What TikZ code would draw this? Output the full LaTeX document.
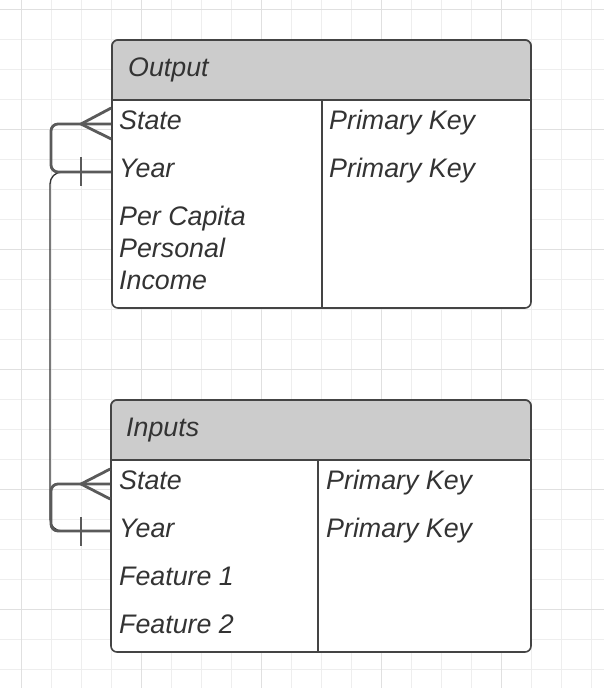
\documentclass[tikz,border=0pt]{standalone}
\usepackage{fontspec}
\setmainfont{Liberation Sans}
\usetikzlibrary{calc}
\definecolor{gridminor}{HTML}{EEEEEE}
\definecolor{gridmajor}{HTML}{E0E0E0}
\definecolor{hdr}{HTML}{CCCCCC}
\definecolor{bord}{HTML}{444444}
\definecolor{txt}{HTML}{333333}
\definecolor{conn}{HTML}{5A5A5A}
\definecolor{thin}{HTML}{333333}
\begin{document}
\begin{tikzpicture}[x=1pt,y=-1pt,
  rowtxt/.style={anchor=base west,inner sep=0pt,text=txt,font=\fontsize{26.8}{32}\selectfont\itshape},
  tablebox/.style={draw=bord,line width=1.6pt,rounded corners=6pt,fill=white,inner sep=0pt},
  hdrfill/.style={fill=hdr},
  divider/.style={draw=bord,line width=1.6pt},
  rel/.style={draw=conn,line width=2.8pt},
  relthin/.style={draw=thin,line width=1.3pt,rounded corners=12pt}]
\useasboundingbox (0,0) rectangle (604,688);
\fill[white] (0,0) rectangle (604,688);
% grid
\foreach \x in {21,51,...,600} \draw[gridminor,line width=1pt] (\x,0) -- (\x,688);
\foreach \y in {9,39,...,688} \draw[gridminor,line width=1pt] (0,\y) -- (604,\y);
\foreach \x in {21,141,...,600} \draw[gridmajor,line width=1pt] (\x,0) -- (\x,688);
\foreach \y in {9,129,...,688} \draw[gridmajor,line width=1pt] (0,\y) -- (604,\y);

% Output table
\node[tablebox,minimum width=419pt,minimum height=268pt] (outT) at (321.5,174) {};
\fill[hdrfill,rounded corners=6pt] (112,100) -- (112,40) -- (531,40) -- (531,100) [sharp corners] -- cycle;
\draw[bord,line width=1.6pt,rounded corners=6pt] (112,100) -- (112,40) -- (531,40) -- (531,100);
\draw[divider] (112,100) -- (531,100);
\draw[divider] (322,100) -- (322,308);
\node[rowtxt] (outH) at (128,76) {Output};
\node[rowtxt] (oState) at (119,129) {State};
\node[rowtxt] (oYear) at (119,177) {Year};
\node[rowtxt] (oPc) at (119,225) {Per Capita};
\node[rowtxt] (oPe) at (119,257) {Personal};
\node[rowtxt] (oIn) at (119,289) {Income};
\node[rowtxt] (oPk1) at (329,129) {Primary Key};
\node[rowtxt] (oPk2) at (329,177) {Primary Key};

% Inputs table
\node[tablebox,minimum width=420pt,minimum height=252pt] (inT) at (321,526) {};
\fill[hdrfill,rounded corners=6pt] (111,460) -- (111,400) -- (531,400) -- (531,460) [sharp corners] -- cycle;
\draw[bord,line width=1.6pt,rounded corners=6pt] (111,460) -- (111,400) -- (531,400) -- (531,460);
\draw[divider] (111,460) -- (531,460);
\draw[divider] (318,460) -- (318,652);
\node[rowtxt] (inH) at (126,436) {Inputs};
\node[rowtxt] (iState) at (119,489) {State};
\node[rowtxt] (iYear) at (119,537) {Year};
\node[rowtxt] (iF1) at (119,585) {Feature 1};
\node[rowtxt] (iF2) at (119,633) {Feature 2};
\node[rowtxt] (iPk1) at (326,489) {Primary Key};
\node[rowtxt] (iPk2) at (326,537) {Primary Key};

% connection points on the table borders
\coordinate (oS) at (outT.west |- 0,124);
\coordinate (oY) at (outT.west |- 0,172);
\coordinate (iS) at (inT.west |- 0,484);
\coordinate (iY) at (inT.west |- 0,531);

% thin connector
\draw[relthin] (oY) -- (50,172) -- (50,531) -- (iY);

% upper relation
\draw[rel,rounded corners=7pt] (oS) -| (51,172) -- (oY);
\draw[rel] ($(oS)+(0,-16)$) -- (81,124) -- ($(oS)+(0,15)$);
\draw[rel] (81,157) -- (81,186);

% lower relation
\draw[rel,rounded corners=7pt] (iS) -| (51,531) -- (iY);
\draw[rel] ($(iS)+(0,-15)$) -- (81,484) -- ($(iS)+(0,15)$);
\draw[rel] (81,517) -- (81,546);
\end{tikzpicture}
\end{document}
